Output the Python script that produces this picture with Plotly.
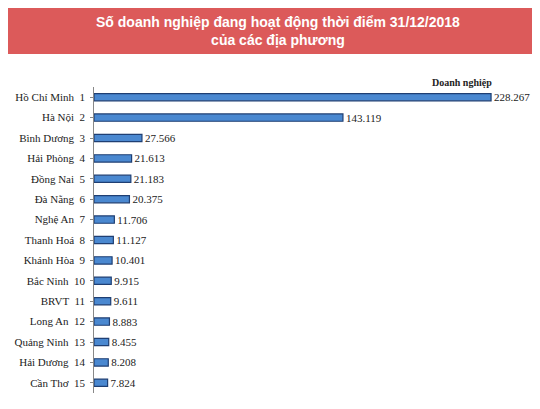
import plotly.graph_objects as go

provinces = ["Hồ Chí Minh  1","Hà Nội  2","Bình Dương  3","Hải Phòng  4","Đồng Nai  5","Đà Nẵng  6",
             "Nghệ An  7","Thanh Hoá  8","Khánh Hòa  9","Bắc Ninh  10","BRVT  11","Long An  12",
             "Quảng Ninh  13","Hải Dương  14","Cần Thơ  15"]
values = [228267,143119,27566,21613,21183,20375,11706,11127,10401,9915,9611,8883,8455,8208,7824]

W, H = 540, 409
L, T, B = 86, 79, 24
ph = H - T - B
pw = W - L
def py(p): return (H - B - p) / ph
def px(p): return (p - L) / pw

SERIF = "Liberation Serif, Times New Roman, DejaVu Serif, serif"

fig = go.Figure(go.Bar(
    y=provinces, x=values, orientation="h", width=0.36,
    marker=dict(color="#4A88D0", line=dict(color="#1F3F73", width=1.2)),
    texttemplate="%{x:,}", textposition="outside", constraintext="none",
    textfont=dict(family=SERIF, size=11, color="#222"),
    cliponaxis=False,
))
fig.update_layout(
    width=W, height=H, margin=dict(l=L, r=0, t=T, b=B, autoexpand=False),
    paper_bgcolor="white", plot_bgcolor="white", separators=",.",
    showlegend=False, bargap=0.6,
    uniformtext=dict(minsize=11, mode="show"),
    xaxis=dict(range=[0, 261000], visible=False, automargin=False),
    yaxis=dict(autorange="reversed", showline=True, linecolor="#888", linewidth=1,
               ticks="outside", ticklen=3, tickcolor="#888", automargin=False,
               tickfont=dict(family=SERIF, size=11, color="#222"), ticksuffix=" "),
    shapes=[dict(type="rect", xref="paper", yref="paper", x0=px(0), x1=px(540), y0=py(46), y1=py(0),
                 fillcolor="#DC5A5A", line=dict(width=0), layer="below")],
    annotations=[
        dict(xref="paper", yref="paper", x=px(270), y=py(23), xanchor="center", yanchor="middle",
             showarrow=False,
             text="<b>Số doanh nghiệp đang hoạt động thời điểm 31/12/2018</b><br><b>của các địa phương</b>",
             font=dict(family="Liberation Sans, Arial, sans-serif", size=14, color="white")),
        dict(xref="paper", yref="paper", x=px(486), y=py(67), showarrow=False,
             text="<b>Doanh nghiệp</b>", font=dict(family=SERIF, size=10, color="#222")),
    ],
)
fig.write_html("out.html")
